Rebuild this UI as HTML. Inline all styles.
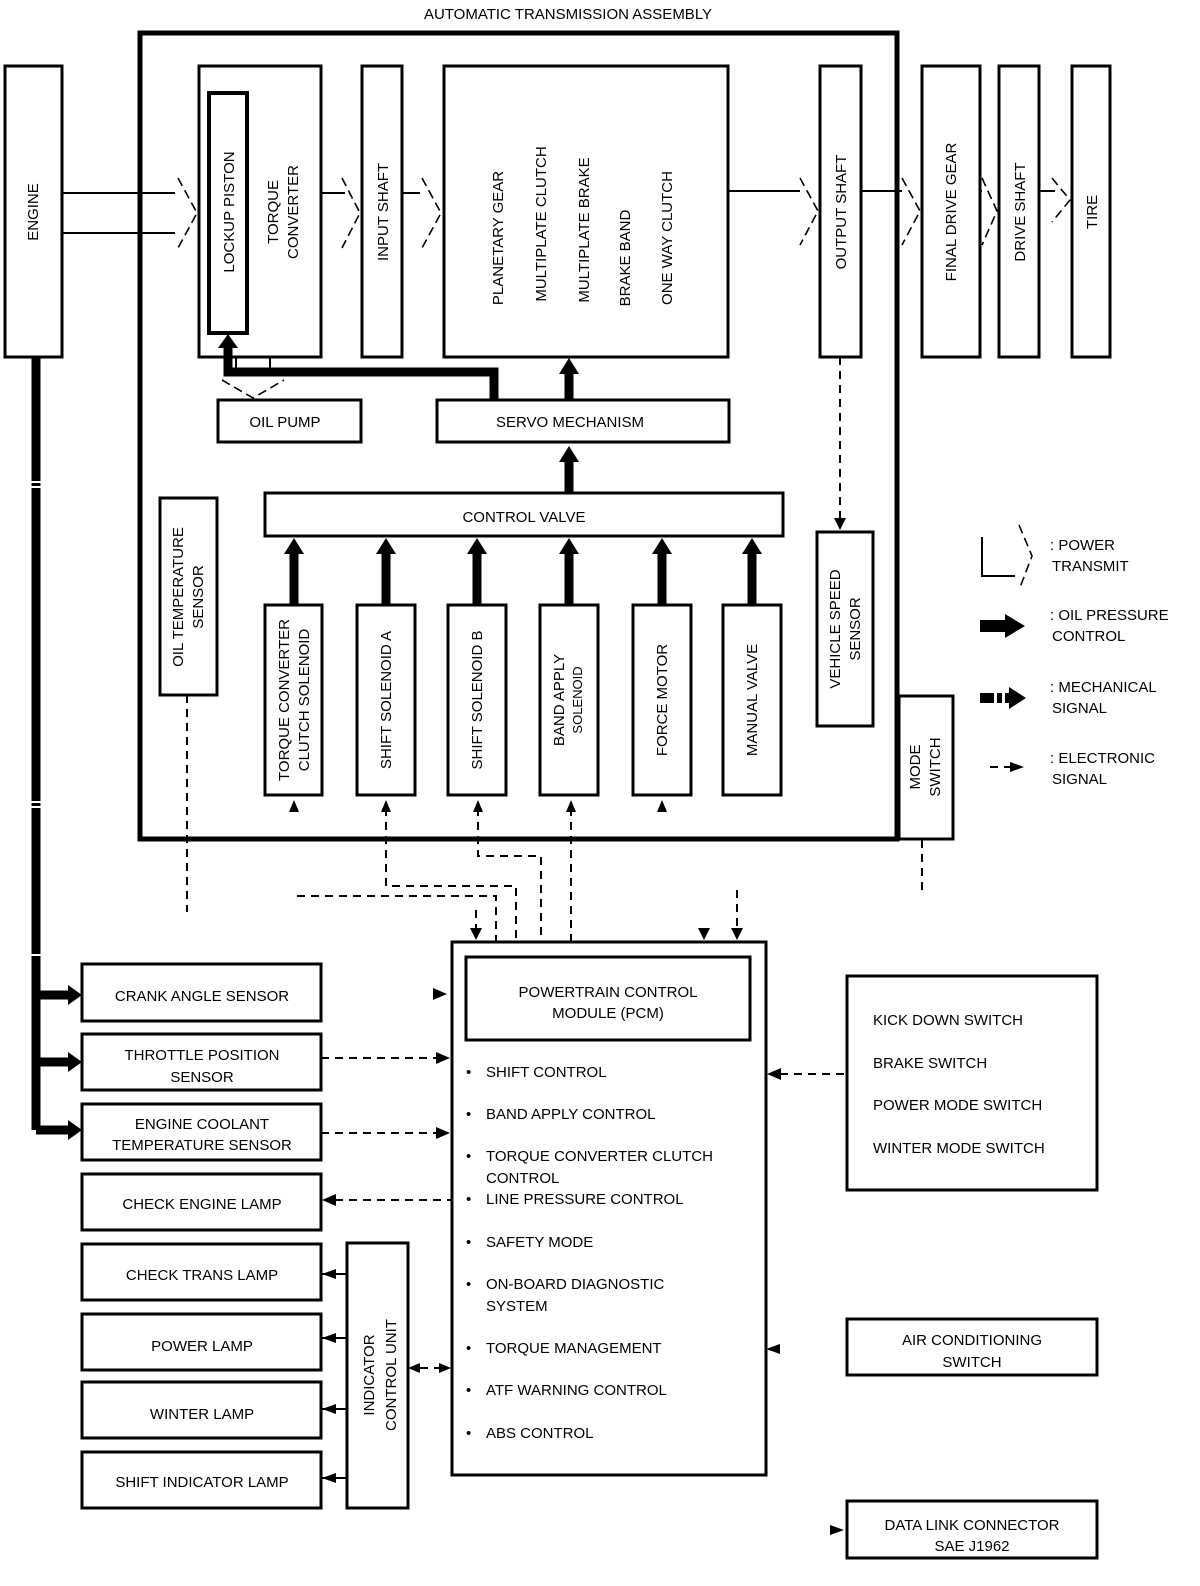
<!DOCTYPE html>
<html><head><meta charset="utf-8"><style>
html,body{margin:0;padding:0;background:#fff}
svg{display:block}
text{font-family:"Liberation Sans",sans-serif;font-size:15px;fill:#000}
.b{fill:#fff;stroke:#000;stroke-width:3}
.d{fill:none;stroke:#000;stroke-width:2;stroke-dasharray:8,6}
.t{fill:none;stroke:#000;stroke-width:9}
.l{fill:none;stroke:#000;stroke-width:2}
.pd{fill:none;stroke:#000;stroke-width:1.6;stroke-dasharray:9,5}
</style></head><body>
<svg width="1200" height="1586" viewBox="0 0 1200 1586" xmlns="http://www.w3.org/2000/svg">

<text x="568" y="19" text-anchor="middle" font-size="14">AUTOMATIC TRANSMISSION ASSEMBLY</text>
<rect x="140" y="33" width="757" height="806" fill="none" stroke="#000" stroke-width="5"/>

<!-- engine -->
<rect class="b" x="5" y="66" width="57" height="291"/>
<text transform="translate(38,212) rotate(-90)" text-anchor="middle">ENGINE</text>
<path class="t" d="M36,357 V1130"/>
<path d="M30,482 h12 M30,487 h12 M30,802 h12 M30,807 h12 M30,955 h12" stroke="#fff" stroke-width="2"/>
<path class="t" d="M36,995 H70 M36,1062 H70 M36,1130 H70"/>
<path d="M68,985 L82,995 L68,1005Z M68,1052 L82,1062 L68,1072Z M68,1120 L82,1130 L68,1140Z" fill="#000"/>

<!-- power transmit lines -->
<path class="l" d="M62,193 H175 M62,233 H175"/>
<path class="pd" d="M178,178 L197,213 L178,248"/>
<path class="l" d="M321,193 H345"/>
<path class="pd" d="M342,178 L360,213 L342,248"/>
<path class="l" d="M402,193 H420"/>
<path class="pd" d="M422,178 L441,213 L422,248"/>
<path class="l" d="M728,191 H800"/>
<path class="pd" d="M800,178 L818,211 L800,245"/>
<path class="l" d="M861,191 H902"/>
<path class="pd" d="M902,178 L920,211 L902,245"/>
<path class="l" d="M980,191 H982"/>
<path class="pd" d="M982,178 L997,211 L982,245"/>
<path class="l" d="M1039,191 H1055"/>
<path class="pd" d="M1052,178 L1070,200 L1052,222"/>

<!-- torque converter -->
<rect class="b" x="199" y="66" width="122" height="291"/>
<rect x="209" y="93" width="38" height="240" fill="#fff" stroke="#000" stroke-width="4"/>
<text transform="translate(234,212) rotate(-90)" text-anchor="middle">LOCKUP PISTON</text>
<text transform="translate(278,212) rotate(-90)" text-anchor="middle"><tspan x="0" dy="0">TORQUE</tspan><tspan x="0" dy="20">CONVERTER</tspan></text>
<rect class="b" x="362" y="66" width="40" height="291"/>
<text transform="translate(388,212) rotate(-90)" text-anchor="middle">INPUT SHAFT</text>
<rect class="b" x="444" y="66" width="284" height="291"/>
<text transform="translate(503,238) rotate(-90)" text-anchor="middle">PLANETARY GEAR</text>
<text transform="translate(546,224) rotate(-90)" text-anchor="middle">MULTIPLATE CLUTCH</text>
<text transform="translate(589,230) rotate(-90)" text-anchor="middle">MULTIPLATE BRAKE</text>
<text transform="translate(630,258) rotate(-90)" text-anchor="middle">BRAKE BAND</text>
<text transform="translate(672,238) rotate(-90)" text-anchor="middle">ONE WAY CLUTCH</text>
<rect class="b" x="820" y="66" width="41" height="291"/>
<text transform="translate(846,212) rotate(-90)" text-anchor="middle">OUTPUT SHAFT</text>
<rect class="b" x="922" y="66" width="58" height="291"/>
<text transform="translate(956,212) rotate(-90)" text-anchor="middle" font-size="14">FINAL DRIVE GEAR</text>
<rect class="b" x="999" y="66" width="40" height="291"/>
<text transform="translate(1025,212) rotate(-90)" text-anchor="middle">DRIVE SHAFT</text>
<rect class="b" x="1072" y="66" width="38" height="291"/>
<text transform="translate(1097,212) rotate(-90)" text-anchor="middle">TIRE</text>

<!-- oil pump & servo -->
<path class="l" d="M236,357 V372 M270,357 V372"/>
<path class="pd" d="M222,380 L253,398 L284,380"/>
<rect class="b" x="218" y="400" width="143" height="42"/>
<text x="285" y="427" text-anchor="middle">OIL PUMP</text>
<rect class="b" x="437" y="400" width="292" height="42"/>
<text x="570" y="427" text-anchor="middle">SERVO MECHANISM</text>
<path class="t" d="M494,400 V372 H228 V346"/>
<path d="M218,348 L228,334 L238,348Z" fill="#000"/>
<path class="t" d="M569,400 V372"/>
<path d="M559,374 L569,358 L579,374Z" fill="#000"/>
<path class="t" d="M569,492 V460"/>
<path d="M559,462 L569,446 L579,462Z" fill="#000"/>

<!-- control valve -->
<rect class="b" x="265" y="493" width="518" height="43"/>
<text x="524" y="522" text-anchor="middle">CONTROL VALVE</text>

<!-- oil temp sensor -->
<rect class="b" x="160" y="498" width="57" height="197"/>
<text transform="translate(183,597) rotate(-90)" text-anchor="middle"><tspan x="0" dy="0">OIL TEMPERATURE</tspan><tspan x="0" dy="20">SENSOR</tspan></text>
<path class="d" d="M187,695 V912"/>

<!-- solenoids -->
<g>
<rect class="b" x="265" y="605" width="57" height="190"/>
<text transform="translate(289,700) rotate(-90)" text-anchor="middle" font-size="14"><tspan x="0" dy="0">TORQUE CONVERTER</tspan><tspan x="0" dy="20">CLUTCH SOLENOID</tspan></text>
<rect class="b" x="357" y="605" width="58" height="190"/>
<text transform="translate(391,700) rotate(-90)" text-anchor="middle">SHIFT SOLENOID A</text>
<rect class="b" x="448" y="605" width="58" height="190"/>
<text transform="translate(482,700) rotate(-90)" text-anchor="middle">SHIFT SOLENOID B</text>
<rect class="b" x="540" y="605" width="58" height="190"/>
<text transform="translate(564,700) rotate(-90)" text-anchor="middle"><tspan x="0" dy="0">BAND APPLY</tspan><tspan x="0" dy="18" font-size="13">SOLENOID</tspan></text>
<rect class="b" x="633" y="605" width="58" height="190"/>
<text transform="translate(667,700) rotate(-90)" text-anchor="middle">FORCE MOTOR</text>
<rect class="b" x="723" y="605" width="58" height="190"/>
<text transform="translate(757,700) rotate(-90)" text-anchor="middle">MANUAL VALVE</text>
</g>
<path class="t" d="M294,605 V552 M386,605 V552 M477,605 V552 M569,605 V552 M662,605 V552 M752,605 V552"/>
<g fill="#000">
<path d="M284,554 L294,538 L304,554Z"/><path d="M376,554 L386,538 L396,554Z"/><path d="M467,554 L477,538 L487,554Z"/>
<path d="M559,554 L569,538 L579,554Z"/><path d="M652,554 L662,538 L672,554Z"/><path d="M742,554 L752,538 L762,554Z"/>
<path d="M289,812 L294,800 L299,812Z"/><path d="M662,800 L657,812 L667,812Z"/>
</g>
<path class="d" d="M386,808 V886 H516 V941"/>
<path class="d" d="M478,808 V856 H541 V941"/>
<path class="d" d="M571,808 V941"/>
<path d="M381,812 L386,800 L391,812Z M473,812 L478,800 L483,812Z M566,812 L571,800 L576,812Z" fill="#000"/>
<path class="d" d="M297,896 H496 V941"/>
<path class="d" d="M476,910 V930"/>
<path d="M470,928 L476,940 L482,928Z M698,928 L704,940 L710,928Z M731,928 L737,940 L743,928Z" fill="#000"/>
<path class="d" d="M737,890 V930"/>

<!-- vehicle speed sensor -->
<path class="d" d="M840,357 V520"/>
<path d="M834,518 L840,530 L846,518Z" fill="#000"/>
<rect class="b" x="817" y="532" width="56" height="194"/>
<text transform="translate(840,629) rotate(-90)" text-anchor="middle"><tspan x="0" dy="0">VEHICLE SPEED</tspan><tspan x="0" dy="20">SENSOR</tspan></text>
<!-- mode switch -->
<rect class="b" x="899" y="696" width="54" height="143"/>
<text transform="translate(920,767) rotate(-90)" text-anchor="middle"><tspan x="0" dy="0">MODE</tspan><tspan x="0" dy="20">SWITCH</tspan></text>
<path class="d" d="M922,840 V892"/>

<!-- legend -->
<path class="l" d="M982,537 V576 H1015"/>
<path class="pd" d="M1019,525 L1032,556 L1019,590"/>
<text x="1050" y="550">: POWER</text><text x="1052" y="571">TRANSMIT</text>
<rect x="980" y="620" width="26" height="12" fill="#000"/><path d="M1005,614 L1025,626 L1005,638Z" fill="#000"/>
<text x="1050" y="620">: OIL PRESSURE</text><text x="1052" y="641">CONTROL</text>
<path d="M980,693 h14 v10 h-14z M997,693 h5 v10 h-5z M1005,693 h4 v10 h-4z" fill="#000"/><path d="M1009,687 L1026,698 L1009,709Z" fill="#000"/>
<text x="1050" y="692">: MECHANICAL</text><text x="1052" y="713">SIGNAL</text>
<path class="d" d="M990,767 H1012" stroke-dasharray="6,4"/><path d="M1010,762 L1024,767 L1010,772Z" fill="#000"/>
<text x="1050" y="763">: ELECTRONIC</text><text x="1052" y="784">SIGNAL</text>

<!-- PCM -->
<rect class="b" x="452" y="942" width="314" height="533"/>
<rect class="b" x="466" y="957" width="284" height="83"/>
<text x="608" y="997" text-anchor="middle">POWERTRAIN CONTROL</text>
<text x="608" y="1018" text-anchor="middle">MODULE (PCM)</text>
<g font-size="15">
<text x="466" y="1077">•</text><text x="486" y="1077">SHIFT CONTROL</text>
<text x="466" y="1119">•</text><text x="486" y="1119">BAND APPLY CONTROL</text>
<text x="466" y="1161">•</text><text x="486" y="1161">TORQUE CONVERTER CLUTCH</text><text x="486" y="1183">CONTROL</text>
<text x="466" y="1204">•</text><text x="486" y="1204">LINE PRESSURE CONTROL</text>
<text x="466" y="1247">•</text><text x="486" y="1247">SAFETY MODE</text>
<text x="466" y="1289">•</text><text x="486" y="1289">ON-BOARD DIAGNOSTIC</text><text x="486" y="1311">SYSTEM</text>
<text x="466" y="1353">•</text><text x="486" y="1353">TORQUE MANAGEMENT</text>
<text x="466" y="1395">•</text><text x="486" y="1395">ATF WARNING CONTROL</text>
<text x="466" y="1438">•</text><text x="486" y="1438">ABS CONTROL</text>
</g>

<!-- left boxes -->
<rect class="b" x="82" y="964" width="239" height="57"/><text x="202" y="1001" text-anchor="middle">CRANK ANGLE SENSOR</text>
<rect class="b" x="82" y="1034" width="239" height="56"/><text x="202" y="1060" text-anchor="middle">THROTTLE POSITION</text><text x="202" y="1082" text-anchor="middle">SENSOR</text>
<rect class="b" x="82" y="1104" width="239" height="56"/><text x="202" y="1129" text-anchor="middle">ENGINE COOLANT</text><text x="202" y="1150" text-anchor="middle">TEMPERATURE SENSOR</text>
<rect class="b" x="82" y="1174" width="239" height="56"/><text x="202" y="1209" text-anchor="middle">CHECK ENGINE LAMP</text>
<rect class="b" x="82" y="1244" width="239" height="56"/><text x="202" y="1280" text-anchor="middle">CHECK TRANS LAMP</text>
<rect class="b" x="82" y="1314" width="239" height="56"/><text x="202" y="1351" text-anchor="middle">POWER LAMP</text>
<rect class="b" x="82" y="1382" width="239" height="56"/><text x="202" y="1419" text-anchor="middle">WINTER LAMP</text>
<rect class="b" x="82" y="1452" width="239" height="56"/><text x="202" y="1487" text-anchor="middle">SHIFT INDICATOR LAMP</text>

<!-- connections left -->
<path d="M433,988 L447,994 L433,1000Z" fill="#000"/>
<path class="d" d="M321,1058 H440"/><path d="M436,1052 L450,1058 L436,1064Z" fill="#000"/>
<path class="d" d="M321,1133 H440"/><path d="M436,1127 L450,1133 L436,1139Z" fill="#000"/>
<path class="d" d="M335,1200 H451"/><path d="M336,1194 L322,1200 L336,1206Z" fill="#000"/>

<rect class="b" x="347" y="1243" width="61" height="265"/>
<text transform="translate(374,1375) rotate(-90)" text-anchor="middle" font-size="17"><tspan x="0" dy="0">INDICATOR</tspan><tspan x="0" dy="22">CONTROL UNIT</tspan></text>
<g fill="#000">
<path d="M336,1269 L322,1274 L336,1279Z"/><path d="M336,1333 L322,1338 L336,1343Z"/><path d="M336,1404 L322,1409 L336,1414Z"/><path d="M336,1473 L322,1478 L336,1483Z"/>
<path d="M408,1368 L420,1363 L420,1373Z"/><path d="M451,1368 L439,1363 L439,1373Z"/>
</g>
<path class="l" d="M322,1274 H347 M322,1338 H347 M322,1409 H347 M322,1478 H347"/>
<path class="d" d="M420,1368 H440" stroke-dasharray="5,4"/>

<!-- right boxes -->
<rect class="b" x="847" y="976" width="250" height="214"/>
<text x="873" y="1025">KICK DOWN SWITCH</text>
<text x="873" y="1068">BRAKE SWITCH</text>
<text x="873" y="1110">POWER MODE SWITCH</text>
<text x="873" y="1153">WINTER MODE SWITCH</text>
<path class="d" d="M780,1074 H846"/><path d="M781,1068 L767,1074 L781,1080Z" fill="#000"/>
<rect class="b" x="847" y="1319" width="250" height="56"/>
<text x="972" y="1345" text-anchor="middle">AIR CONDITIONING</text><text x="972" y="1367" text-anchor="middle">SWITCH</text>
<path d="M780,1344 L766,1349 L780,1354Z" fill="#000"/>
<rect class="b" x="847" y="1501" width="250" height="57"/>
<text x="972" y="1530" text-anchor="middle">DATA LINK CONNECTOR</text><text x="972" y="1551" text-anchor="middle">SAE J1962</text>
<path d="M830,1525 L844,1530 L830,1535Z" fill="#000"/>
</svg>
</body></html>
